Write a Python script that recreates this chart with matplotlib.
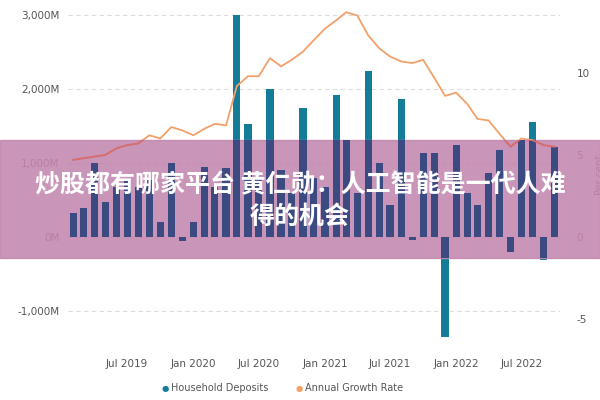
import matplotlib
matplotlib.use("Agg")
import matplotlib.pyplot as plt
import matplotlib.dates as mdates
from matplotlib.patches import Rectangle
import numpy as np
import datetime as dt

months = [dt.date(2019 + (1 + i) // 12, (1 + i) % 12 + 1, 1) for i in range(45)]
deposits = [324, 390, 1000, 470, 675, 770, 675, 770, 200, 1000, -60, 200, 950, 675, 930,
            3000, 1530, 800, 2000, 900, 600, 1740, 800, 675, 1920, 1310, 600, 2240, 1000,
            430, 1865, -40, 1130, 1130, -1350, 1240, 600, 430, 860, 1175, -200, 1310, 1555,
            -310, 1220]
growth = [4.7, 4.8, 4.9, 5.0, 5.4, 5.6, 5.7, 6.2, 6.0, 6.7, 6.5, 6.2, 6.6, 6.9, 6.8,
          9.2, 9.8, 9.8, 10.9, 10.4, 10.8, 11.3, 12.0, 12.7, 13.2, 13.7, 13.5, 12.3, 11.5,
          11.0, 10.7, 10.6, 10.8, 9.7, 8.6, 8.8, 8.1, 7.2, 7.1, 6.3, 5.5, 6.0, 5.9, 5.6, 5.5]
left_ticks = [-1000, 0, 1000, 2000, 3000]
left_labels = ["-1,000M", "0M", "1,000M", "2,000M", "3,000M"]
right_ticks = [-5, 0, 5, 10]
right_labels = ["-5", "0", "5", "10"]
xtick_dates = [dt.date(2019, 7, 1), dt.date(2020, 1, 1), dt.date(2020, 7, 1), dt.date(2021, 1, 1),
               dt.date(2021, 7, 1), dt.date(2022, 1, 1), dt.date(2022, 7, 1)]
xtick_labels = ["Jul 2019", "Jan 2020", "Jul 2020", "Jan 2021", "Jul 2021", "Jan 2022", "Jul 2022"]
title = "炒股都有哪家平台 黄仁勋：人工智能是一代人难\n得的机会"

teal = "#137d99"
navy = "#3c4a82"
orange = "#f3a06a"
gray = "#555555"

fig = plt.figure(figsize=(6, 4), dpi=100)
ax = fig.add_axes([0.113, 0.1375, 0.82, 0.85])
ylo, yhi = -1460, 3135
ax.set_ylim(ylo, yhi)
x = mdates.date2num(months)
ax.bar(x, deposits, width=20, color=teal, zorder=2)
ax.set_xlim(x[0] - 15, x[-1] + 15)
ax.set_yticks(left_ticks)
ax.set_yticklabels(left_labels)
ax.grid(axis="y", linestyle=(0, (4, 3)), color="#dddddd", lw=0.8, zorder=0)
ax.set_xticks(mdates.date2num(xtick_dates))
ax.set_xticklabels(xtick_labels)
for s in ax.spines.values():
    s.set_visible(False)
ax.tick_params(length=0, labelsize=7.5, colors=gray, pad=6)
ax.tick_params(axis="x", pad=10)

ax2 = ax.twinx()
k = 221.7
ax2.set_ylim(ylo / k, yhi / k)
ax2.plot(x, growth, color=orange, lw=1.3, zorder=3)
ax2.set_yticks(right_ticks)
ax2.set_yticklabels(right_labels)
for s in ax2.spines.values():
    s.set_visible(False)
ax2.tick_params(length=0, labelsize=7.5, colors=gray, pad=12)
ax2.set_ylabel("Per cent", color=gray, fontsize=7, labelpad=4)

# banner overlay
band = Rectangle((0, 0.355), 1, 0.295, transform=fig.transFigure, color="#c286ae",
                 alpha=0.88, zorder=10, clip_on=False)
ax2.add_patch(band)
clip = Rectangle((0, 0.355), 1, 0.295, transform=fig.transFigure, visible=False)
ax2.add_patch(clip)
bars2 = ax2.bar(x, np.array(deposits) / k, width=20, color=navy, zorder=11)
for b in bars2:
    b.set_clip_path(clip)
ln, = ax2.plot(x, growth, color="#d86c6c", lw=1.3, zorder=12)
ln.set_clip_path(clip)
fig.text(0.5, 0.497, title, ha="center", va="center", fontsize=18, fontweight="bold",
         color="white", family="Noto Sans CJK SC", zorder=20, linespacing=1.4)

# legend
fig.text(0.27, 0.03, "●", color=teal, fontsize=6, va="center")
fig.text(0.285, 0.03, "Household Deposits", color=gray, fontsize=7, va="center")
fig.text(0.493, 0.03, "●", color=orange, fontsize=6, va="center")
fig.text(0.508, 0.03, "Annual Growth Rate", color=gray, fontsize=7, va="center")

fig.savefig("out.png", dpi=100)
